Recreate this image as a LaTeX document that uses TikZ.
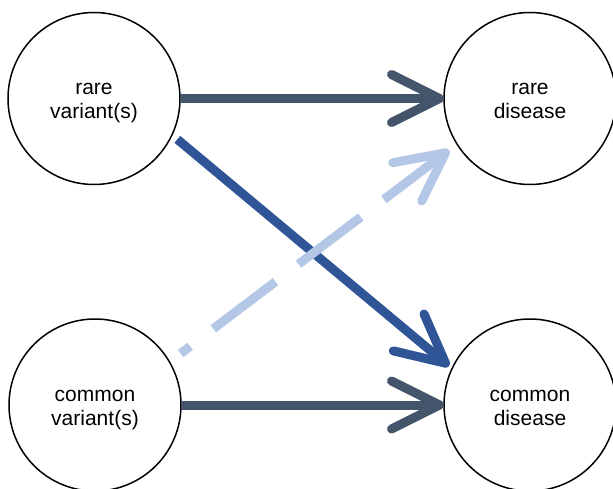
\documentclass[tikz,border=0pt]{standalone}
\usepackage{fontspec}
\setmainfont{Liberation Sans}
\usetikzlibrary{arrows.meta}
\definecolor{slate}{HTML}{44546A}
\definecolor{blueD}{HTML}{2F5597}
\definecolor{blueL}{HTML}{B4C7E7}
\begin{document}
\begin{tikzpicture}[x=1pt,y=-1pt,
  entity/.style={circle,draw=black,line width=1.5pt,minimum size=172pt,inner sep=0pt,outer sep=0pt,align=center,font=\fontsize{21}{24}\selectfont},
  link/.style={line width=9pt,-{Straight Barb[length=48pt,width=48pt,round]}},
]
\useasboundingbox (0,0) rectangle (613,489);
\node[entity] (rv) at (94,98.5) {\rule{0pt}{22pt}rare\\variant(s)\rule[-5pt]{0pt}{5pt}};
\node[entity] (rd) at (530,98.5) {\rule{0pt}{22pt}rare\\disease\rule[-5pt]{0pt}{5pt}};
\node[entity] (cv) at (95,405) {\rule{0pt}{22pt}common\\variant(s)\rule[-5pt]{0pt}{5pt}};
\node[entity] (cd) at (530,405) {\rule{0pt}{22pt}common\\disease\rule[-5pt]{0pt}{5pt}};
\draw[link,slate] (rv.east) -- (rd.west);
\draw[link,slate] (cv.east) -- (cd.west);
\draw[link,blueD,shorten <=7pt,shorten >=4pt] (rv.-25) -- (cd.155);
\draw[link,blueL,dash pattern=on 78pt off 29pt,dash phase=66pt,shorten <=14pt,shorten >=10pt] (cv.30) -- (rd.212);
\end{tikzpicture}
\end{document}
